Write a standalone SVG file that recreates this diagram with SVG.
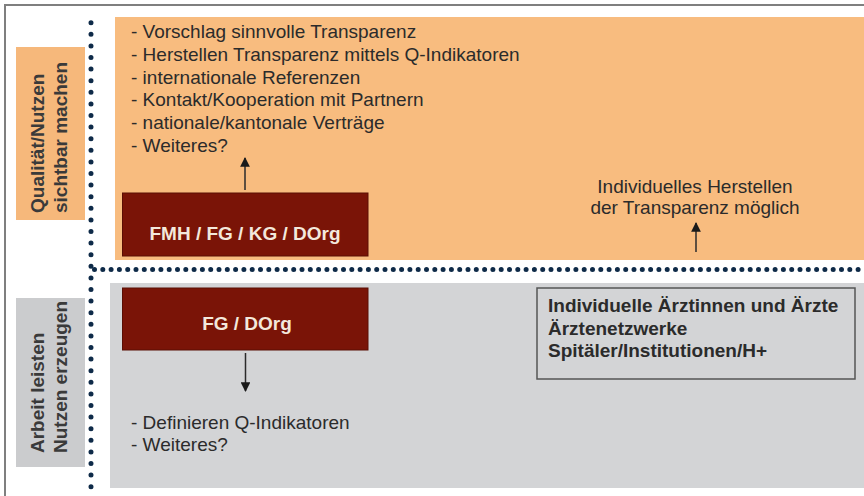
<svg xmlns="http://www.w3.org/2000/svg" width="864" height="496" viewBox="0 0 864 496">
  <style>
    .t { font-family: "Liberation Sans", Arial, sans-serif; font-size: 19px; fill: #2b2b2b; }
    .b { font-family: "Liberation Sans", Arial, sans-serif; font-size: 19px; font-weight: bold; fill: #2b2b2b; }
    .lbl { font-family: "Liberation Sans", Arial, sans-serif; font-size: 19px; font-weight: bold; fill: #3a3a3a; }
    .w { font-family: "Liberation Sans", Arial, sans-serif; font-size: 19px; font-weight: bold; fill: #f3e8dc; }
    .red { fill: #7a1407; stroke: #5a0e04; stroke-width: 1; }
    .arr { stroke: #2b2b2b; stroke-width: 1.5; fill: none; marker-end: url(#ah); }
    .dots { stroke: #0e2a48; stroke-width: 5; stroke-linecap: round; fill: none; }
  </style>
  <defs>
    <marker id="ah" viewBox="0 0 10 10" refX="9" refY="5" markerWidth="6.5" markerHeight="6.5" markerUnits="strokeWidth" orient="auto">
      <path d="M0,0 L10,5 L0,10 Z" fill="#1a1a1a"/>
    </marker>
  </defs>
  <rect x="0" y="0" width="864" height="496" fill="#ffffff"/>
  <rect x="5" y="5" width="880" height="510" fill="none" stroke="#7f7f7f" stroke-width="2"/>

  <g id="zone-top">
    <rect x="115" y="17" width="749" height="243" fill="#f8bc7f"/>
  </g>
  <g id="zone-bottom">
    <rect x="110" y="283" width="754" height="205" fill="#d3d4d6"/>
  </g>

  <g id="label-top">
    <rect x="16" y="47" width="69" height="173" fill="#f6b87b"/>
    <text class="lbl" transform="translate(44,213) rotate(-90)">Qualität/Nutzen</text>
    <text class="lbl" transform="translate(67,213) rotate(-90)">sichtbar machen</text>
  </g>
  <g id="label-bottom">
    <rect x="16" y="298" width="69" height="169" fill="#cbccce"/>
    <text class="lbl" transform="translate(44,453) rotate(-90)">Arbeit leisten</text>
    <text class="lbl" transform="translate(67,453) rotate(-90)">Nutzen erzeugen</text>
  </g>

  <g id="dividers">
    <line class="dots" x1="91" y1="22.7" x2="91" y2="488" stroke-dasharray="0 11.6"/>
    <line class="dots" x1="94.5" y1="269.5" x2="864" y2="269.5" stroke-dasharray="0 8.3"/>
  </g>

  <g id="list-top">
    <text class="t" x="131" y="38">- Vorschlag sinnvolle Transparenz</text>
    <text class="t" x="131" y="61">- Herstellen Transparenz mittels Q-Indikatoren</text>
    <text class="t" x="131" y="83.5">- internationale Referenzen</text>
    <text class="t" x="131" y="106">- Kontakt/Kooperation mit Partnern</text>
    <text class="t" x="131" y="129">- nationale/kantonale Verträge</text>
    <text class="t" x="131" y="151.5">- Weiteres?</text>
  </g>

  <g id="node-fmh">
    <rect class="red" x="122.5" y="193" width="245.5" height="63"/>
    <text class="w" x="245" y="240" text-anchor="middle">FMH / FG / KG / DOrg</text>
  </g>

  <g id="node-fg">
    <rect class="red" x="122.5" y="288" width="245.5" height="62"/>
    <text class="w" x="247" y="330" text-anchor="middle">FG / DOrg</text>
  </g>

  <g id="text-individual">
    <text class="t" x="695" y="192.5" text-anchor="middle">Individuelles Herstellen</text>
    <text class="t" x="695" y="214" text-anchor="middle">der Transparenz möglich</text>
  </g>

  <g id="node-individual">
    <rect x="537" y="288" width="318" height="91" fill="none" stroke="#555555" stroke-width="1.5"/>
    <text class="b" x="548" y="311.5">Individuelle Ärztinnen und Ärzte</text>
    <text class="b" x="548" y="334.5">Ärztenetzwerke</text>
    <text class="b" x="548" y="357">Spitäler/Institutionen/H+</text>
  </g>

  <g id="list-bottom">
    <text class="t" x="131" y="429">- Definieren Q-Indikatoren</text>
    <text class="t" x="131" y="451">- Weiteres?</text>
  </g>

  <g id="connectors">
    <line class="arr" x1="245" y1="190" x2="245" y2="158"/>
    <line class="arr" x1="245.5" y1="353" x2="245.5" y2="391"/>
    <line class="arr" x1="696" y1="252" x2="696" y2="223"/>
  </g>
</svg>
